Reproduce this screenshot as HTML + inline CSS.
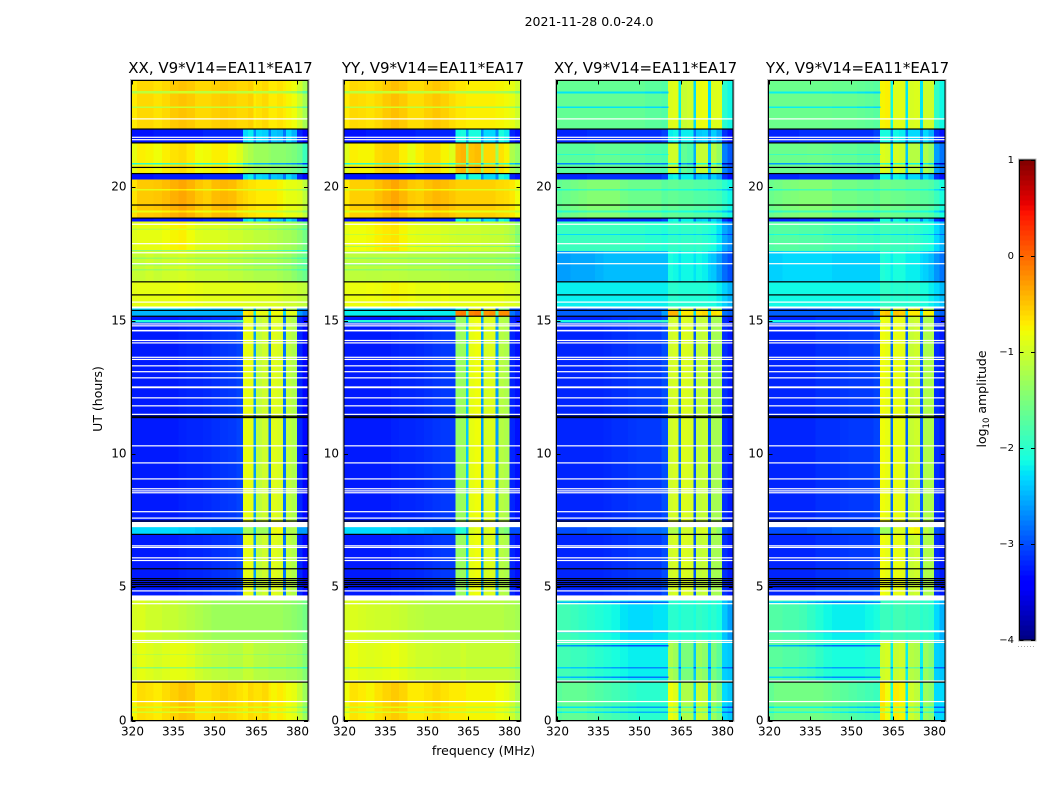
<!DOCTYPE html>
<html lang="en">
<head>
<meta charset="utf-8">
<title>2021-11-28 0.0-24.0</title>
<style>
html,body{margin:0;padding:0;background:#fff;width:1050px;height:800px;overflow:hidden}
svg{display:block}
text{font-family:"DejaVu Sans","Liberation Sans",sans-serif;fill:#000}
</style>
</head>
<body>
<svg id="figure" xmlns="http://www.w3.org/2000/svg" width="1050" height="800" viewBox="0 0 1050 800">
<text x="589" y="26" font-size="12.5" text-anchor="middle">2021-11-28 0.0-24.0</text>
<text transform="translate(102,399) rotate(-90)" font-size="12.5" text-anchor="middle">UT (hours)</text>
<text x="483.5" y="755" font-size="12.5" text-anchor="middle">frequency (MHz)</text>
<text transform="translate(986,399) rotate(-90)" font-size="12.5" text-anchor="middle">log<tspan font-size="8.5" dy="3">10</tspan><tspan dy="-3"> amplitude</tspan></text>
<g id="panels"></g>
<g id="colorbar"></g>
<g fill="#aaa">
<rect x="1018" y="646" width="1" height="1"/><rect x="1021" y="646" width="1" height="1"/><rect x="1024" y="646" width="1" height="1"/><rect x="1027" y="646" width="1" height="1"/><rect x="1030" y="646" width="1" height="1"/><rect x="1033" y="646" width="1" height="1"/>
</g>
</svg>
<script>
// Axis ticks
const freqTicks = [320, 335, 350, 365, 380];
const hourTicks = [0, 5, 10, 15, 20];
const cbarTicks = [-4, -3, -2, -1, 0, 1];
// Frequency bin edges in MHz
const freqEdges = [320,322,325,328,331,334,337,340,343,346,349,352,355,358,360.4,362.3,364.2,365.2,367.4,369.6,370.6,372.8,375,376,378,380,382,384];
// Time bands: from-hour, to-hour, spectrum key
const bands = [
[0,1.44,'warmLow'],[1.44,3.0,'lowYellow'],[3.0,4.5,'green'],[4.69,6.98,'dark'],[6.98,7.25,'cyan'],
[7.44,15.16,'dark'],[15.16,15.38,'hotEdge'],[15.38,15.45,'cyan'],[15.52,16.45,'bright'],[16.45,17.6,'midLow'],
[17.6,18.71,'midHigh'],[18.71,18.86,'darkWin'],[18.86,20.29,'hot'],[20.29,20.51,'darkWin'],[20.51,21.66,'upper'],
[21.66,22.2,'darkWin'],[22.2,24,'warmTop']
];
// Spectra (log10 amplitude per frequency bin)
const xxWarmLow=[-.75,-.62,-.65,-.7,-.62,-.55,-.48,-.52,-.65,-.65,-.6,-.55,-.6,-.65,-.7,-.6,-.65,-.65,-.6,-.7,-.75,-.7,-.75,-.8,-.85,-1.05,-1.3];
const xxLowYellow=[-.95,-.85,-.9,-.95,-.9,-.85,-.85,-.9,-1,-1.05,-1.1,-1.1,-1.15,-1.15,-1.05,-1.05,-1.15,-1.15,-1.15,-1.2,-1.2,-1.2,-1.2,-1.25,-1.25,-1.3,-1.45];
const xxGreen=[-.95,-.92,-1,-1,-1.05,-1.05,-1.1,-1.15,-1.2,-1.25,-1.3,-1.3,-1.3,-1.3,-1.3,-1.3,-1.3,-1.3,-1.3,-1.3,-1.3,-1.3,-1.35,-1.35,-1.4,-1.45,-1.55];
const xxDark=[-3.25,-3.25,-3.25,-3.25,-3.25,-3.25,-3.22,-3.2,-3.2,-3.18,-3.15,-3.12,-3.1,-3.05,-.85,-.85,-2.6,-1.1,-1,-2.8,-.9,-.95,-2.8,-1.1,-1.2,-3.2,-3.35];
const xxCyan=[-2.3,-2.3,-2.3,-2.3,-2.3,-2.3,-2.35,-2.35,-2.4,-2.4,-2.45,-2.5,-2.5,-2.5,-1.25,-1.25,-2.4,-1.3,-1.3,-2.7,-.85,-.8,-2.7,-1.2,-1.2,-2.6,-2.6];
const xxHotEdge=[-2.5,-2.5,-2.5,-2.5,-2.5,-2.5,-2.5,-2.5,-2.5,-2.5,-2.5,-2.5,-2.5,-2.5,-.7,-.65,-2.2,-.85,-.85,-2.3,-.8,-.8,-2.3,-.9,-.9,-2.6,-2.8];
const xxBright=[-.88,-.85,-.85,-.85,-.85,-.82,-.8,-.82,-.85,-.88,-.88,-.88,-.88,-.88,-.9,-.9,-.9,-.92,-.92,-.92,-.92,-.95,-1,-1,-1,-1.05,-1.1];
const xxMidLow=[-1.05,-1.05,-1,-1.05,-1,-.98,-.95,-1,-1.05,-1.05,-1.05,-1.05,-1.1,-1.1,-1.15,-1.15,-1.2,-1.2,-1.2,-1.2,-1.2,-1.25,-1.3,-1.3,-1.4,-1.5,-1.6];
const xxMidHigh=[-.9,-.85,-.85,-.85,-.8,-.75,-.72,-.8,-.9,-.92,-.92,-.95,-1,-1,-1.05,-1.05,-1.1,-1.1,-1.1,-1.15,-1.15,-1.2,-1.25,-1.25,-1.3,-1.4,-1.55];
const xxDarkWin=[-3.3,-3.3,-3.3,-3.25,-3.25,-3.25,-3.25,-3.25,-3.25,-3.2,-3.2,-3.2,-3.2,-3.2,-2.3,-2.2,-2.7,-2.3,-2.35,-2.8,-2.4,-2.45,-2.8,-2.3,-2.5,-3.2,-3.35];
const xxHot=[-.65,-.52,-.52,-.5,-.45,-.38,-.33,-.4,-.5,-.55,-.45,-.42,-.45,-.55,-.6,-.65,-.65,-.7,-.7,-.7,-.7,-.75,-.8,-.85,-.85,-.9,-1.1];
const xxUpper=[-.85,-.72,-.75,-.8,-.72,-.65,-.62,-.7,-.8,-.78,-.72,-.72,-.8,-.9,-1.1,-1.2,-1.3,-1.3,-1.3,-1.35,-1.4,-1.4,-1.4,-1.45,-1.5,-1.6,-1.9];
const xxWarmTop=[-.7,-.6,-.6,-.65,-.6,-.52,-.48,-.52,-.6,-.6,-.55,-.52,-.55,-.6,-.6,-.55,-.7,-.65,-.6,-.7,-.7,-.65,-.7,-.75,-.8,-1,-1.25];

const yyWarmLow=[-.8,-.65,-.7,-.75,-.65,-.58,-.52,-.58,-.7,-.7,-.65,-.6,-.65,-.7,-.7,-.7,-.75,-.75,-.75,-.75,-.75,-.75,-.8,-.8,-.85,-1,-1.2];
const yyLowYellow=[-.9,-.82,-.88,-.9,-.88,-.85,-.82,-.88,-.95,-1,-1,-1.02,-1.05,-1.05,-1.05,-1,-1.05,-1.05,-1.05,-1.05,-1.05,-1.05,-1.05,-1.05,-1.05,-1.1,-1.2];
const yyGreen=[-.95,-.92,-.95,-.98,-1,-1,-1.02,-1.05,-1.1,-1.12,-1.15,-1.15,-1.15,-1.15,-1.15,-1.15,-1.15,-1.15,-1.15,-1.15,-1.15,-1.15,-1.15,-1.15,-1.2,-1.2,-1.25];
const yyDark=[-3.25,-3.25,-3.25,-3.25,-3.25,-3.25,-3.22,-3.2,-3.2,-3.18,-3.15,-3.12,-3.1,-3.1,-1.35,-1.3,-2.4,-.85,-.8,-2.6,-.95,-.9,-2.6,-1.15,-1.2,-3.2,-3.3];
const yyCyan=[-2.3,-2.3,-2.3,-2.3,-2.3,-2.3,-2.35,-2.35,-2.4,-2.4,-2.45,-2.5,-2.5,-2.5,-2.1,-2,-2.5,-.95,-.85,-2.7,-.95,-.85,-2.7,-1.4,-1.5,-3,-3];
const yyHotEdge=[-2.2,-2.2,-2.2,-2.2,-2.2,-2.2,-2.2,-2.2,-2.2,-2.2,-2.2,-2.2,-2.2,-2.2,-.15,-.1,-1.8,-.15,-.1,-1.8,-.25,-.2,-1.8,-.2,-.2,-2.8,-3];
const yyBright=[-.85,-.82,-.82,-.8,-.82,-.78,-.75,-.78,-.8,-.85,-.85,-.85,-.82,-.85,-.85,-.85,-.85,-.85,-.85,-.85,-.85,-.85,-.85,-.85,-.9,-.9,-.95];
const yyMidLow=[-1.1,-1.1,-1.1,-1.12,-1.12,-1.1,-1.1,-1.12,-1.15,-1.15,-1.15,-1.15,-1.18,-1.2,-1.2,-1.2,-1.2,-1.22,-1.22,-1.22,-1.22,-1.22,-1.25,-1.25,-1.25,-1.3,-1.4];
const yyMidHigh=[-.85,-.8,-.8,-.78,-.72,-.68,-.65,-.75,-.85,-.88,-.9,-.9,-.95,-.98,-1,-1,-1,-1,-1,-1.02,-1.02,-1.05,-1.05,-1.05,-1.1,-1.2,-1.4];
const yyDarkWin=[-3.3,-3.3,-3.3,-3.25,-3.25,-3.25,-3.25,-3.25,-3.25,-3.2,-3.2,-3.2,-3.2,-3.2,-2.15,-2.1,-2.6,-2.1,-2.1,-2.7,-2.3,-2.3,-2.7,-2.1,-2.2,-3.2,-3.3];
const yyHot=[-.7,-.55,-.55,-.55,-.47,-.4,-.33,-.42,-.52,-.55,-.47,-.42,-.45,-.5,-.55,-.55,-.55,-.55,-.55,-.55,-.55,-.55,-.6,-.6,-.62,-.68,-.8];
const yyUpper=[-.9,-.72,-.75,-.75,-.62,-.58,-.58,-.72,-.85,-.72,-.62,-.62,-.75,-.9,-.45,-.4,-1.3,-.5,-.45,-1.3,-.6,-.6,-1.3,-.65,-.75,-1.2,-1.35];
const yyWarmTop=[-.7,-.6,-.62,-.65,-.6,-.52,-.46,-.52,-.62,-.62,-.55,-.5,-.55,-.62,-.68,-.68,-.72,-.72,-.72,-.72,-.72,-.72,-.75,-.75,-.78,-.85,-1];

const xyWarmLow=[-1.7,-1.65,-1.65,-1.65,-1.7,-1.75,-1.8,-1.85,-1.9,-1.95,-2,-2,-2,-2,-.8,-.9,-2.2,-1.2,-1.2,-2.3,-1.05,-1.1,-2.3,-1.3,-1.5,-2.3,-2.4];
const xyLowYellow=[-1.85,-1.85,-1.9,-1.9,-1.95,-2,-2.05,-2.1,-2.15,-2.2,-2.2,-2.2,-2.2,-2.2,-1.2,-1.3,-2.4,-1.5,-1.5,-2.4,-1.3,-1.4,-2.4,-1.5,-1.7,-2.35,-2.4];
const xyGreen=[-1.85,-1.85,-1.9,-1.95,-2,-2.05,-2.1,-2.15,-2.25,-2.3,-2.3,-2.3,-2.25,-2.25,-2,-2,-2.1,-2,-2,-2.1,-1.95,-2,-2.1,-2,-2.1,-2.4,-2.6];
const xyDark=[-3.2,-3.2,-3.2,-3.2,-3.2,-3.2,-3.18,-3.15,-3.15,-3.12,-3.1,-3.1,-3.1,-3.0,-1,-.95,-2.8,-.92,-.95,-2.95,-1.1,-1.05,-2.95,-1.25,-1.25,-3.15,-3.25];
const xyCyan=[-3,-3,-3,-3,-2.95,-2.95,-2.95,-2.9,-2.9,-2.9,-2.85,-2.85,-2.85,-2.8,-1.2,-1.2,-2.6,-1,-1,-2.8,-1,-.95,-2.8,-1.2,-1.4,-3,-3.1];
const xyHotEdge=[-2.9,-2.9,-2.9,-2.9,-2.9,-2.9,-2.9,-2.9,-2.9,-2.9,-2.9,-2.9,-2.9,-2.6,-.4,-.4,-2.2,-.7,-.7,-2.3,-.65,-.6,-2.3,-.65,-.7,-2.8,-2.9];
const xyBright=[-2.2,-2.2,-2.2,-2.2,-2.2,-2.2,-2.2,-2.2,-2.2,-2.2,-2.2,-2.2,-2.2,-2.2,-2,-2,-2.05,-2.05,-2.05,-2.05,-2.05,-2.05,-2.1,-2.1,-2.2,-2.35,-2.5];
const xyMidLow=[-2.6,-2.6,-2.55,-2.55,-2.55,-2.5,-2.45,-2.45,-2.45,-2.45,-2.45,-2.45,-2.45,-2.45,-2.1,-2.15,-2.25,-2.15,-2.15,-2.25,-2.15,-2.2,-2.35,-2.4,-2.6,-2.85,-3];
const xyMidHigh=[-1.9,-1.9,-1.9,-1.9,-1.9,-1.9,-1.9,-1.9,-1.95,-1.95,-1.95,-2,-2,-2.05,-1.95,-1.95,-2,-1.95,-1.95,-2,-1.95,-2,-2.05,-2.1,-2.25,-2.55,-2.7];
const xyDarkWin=[-3.2,-3.2,-3.2,-3.2,-3.15,-3.15,-3.15,-3.15,-3.15,-3.15,-3.15,-3.15,-3.15,-3.05,-2.2,-2.15,-2.7,-2.2,-2.2,-2.8,-2.4,-2.35,-2.75,-2.35,-2.55,-3.15,-3.3];
const xyHot=[-1.65,-1.6,-1.55,-1.5,-1.45,-1.45,-1.45,-1.45,-1.55,-1.6,-1.6,-1.6,-1.6,-1.7,-1.65,-1.65,-1.7,-1.7,-1.7,-1.75,-1.75,-1.75,-1.8,-1.8,-1.85,-2,-2.15];
const xyUpper=[-1.7,-1.7,-1.7,-1.7,-1.7,-1.65,-1.65,-1.65,-1.7,-1.7,-1.7,-1.75,-1.75,-1.8,-1,-1,-2.3,-1.65,-1.75,-2.5,-1.05,-1.05,-2.4,-1.15,-1.35,-2.75,-2.95];
const xyWarmTop=[-1.65,-1.65,-1.65,-1.65,-1.65,-1.65,-1.65,-1.65,-1.65,-1.65,-1.65,-1.7,-1.7,-1.75,-.92,-.88,-2.2,-1.05,-1,-2.3,-.85,-.82,-2.3,-.92,-.9,-2,-2.15];

const yxWarmLow=[-1.65,-1.55,-1.55,-1.55,-1.55,-1.55,-1.55,-1.6,-1.65,-1.7,-1.75,-1.8,-1.85,-1.9,-.65,-.8,-2.1,-.7,-.75,-2.2,-1,-1.1,-2.2,-1.3,-1.4,-2.3,-2.3];
const yxLowYellow=[-1.7,-1.7,-1.75,-1.75,-1.8,-1.85,-1.95,-2.05,-2.1,-2.1,-2.1,-2.1,-2.05,-2.05,-1,-.95,-2.2,-1.05,-1,-2.2,-1.15,-1.2,-2.2,-1.3,-1.45,-2.35,-2.4];
const yxGreen=[-1.75,-1.75,-1.8,-1.8,-1.85,-1.95,-2.05,-2.15,-2.2,-2.2,-2.2,-2.2,-2.15,-2.1,-1.9,-1.9,-2,-1.85,-1.85,-1.95,-1.9,-1.9,-2,-1.95,-2,-2.3,-2.5];
const yxDark=[-3.2,-3.2,-3.2,-3.2,-3.2,-3.2,-3.15,-3.15,-3.15,-3.12,-3.1,-3.1,-3.1,-3.05,-.8,-.85,-2.85,-.85,-.85,-2.9,-1.05,-1,-2.9,-1.2,-1.2,-3.15,-3.25];
const yxCyan=[-3,-3,-3,-3,-3,-2.95,-2.95,-2.95,-2.9,-2.9,-2.9,-2.9,-2.9,-2.8,-1.3,-1.3,-2.7,-.95,-.95,-2.8,-.8,-.75,-2.8,-1.1,-1.25,-3,-3.1];
const yxHotEdge=[-2.9,-2.9,-2.9,-2.9,-2.9,-2.9,-2.9,-2.9,-2.9,-2.9,-2.9,-2.9,-2.9,-2.7,-.55,-.5,-2.2,-.5,-.55,-2.3,-.7,-.7,-2.3,-.75,-.75,-2.8,-2.9];
const yxBright=[-2.15,-2.15,-2.15,-2.15,-2.15,-2.15,-2.15,-2.15,-2.15,-2.15,-2.15,-2.15,-2.15,-2.15,-1.95,-1.95,-2.05,-2,-2,-2.05,-2,-2,-2.1,-2.1,-2.2,-2.3,-2.45];
const yxMidLow=[-2.35,-2.35,-2.3,-2.3,-2.3,-2.3,-2.3,-2.3,-2.35,-2.35,-2.35,-2.35,-2.35,-2.35,-2.05,-2.1,-2.2,-2.1,-2.1,-2.2,-2.2,-2.2,-2.3,-2.35,-2.45,-2.65,-2.8];
const yxMidHigh=[-1.75,-1.72,-1.72,-1.72,-1.75,-1.75,-1.75,-1.8,-1.85,-1.85,-1.85,-1.9,-1.9,-1.95,-1.85,-1.85,-1.9,-1.9,-1.9,-1.95,-1.9,-1.95,-2,-2.05,-2.1,-2.3,-2.5];
const yxDarkWin=[-3.2,-3.2,-3.2,-3.2,-3.15,-3.15,-3.15,-3.15,-3.15,-3.15,-3.15,-3.15,-3.15,-3.05,-2.1,-2.1,-2.7,-2.15,-2.2,-2.8,-2.3,-2.3,-2.75,-2.3,-2.5,-3.15,-3.3];
const yxHot=[-1.6,-1.55,-1.5,-1.48,-1.45,-1.45,-1.45,-1.45,-1.55,-1.55,-1.55,-1.6,-1.6,-1.65,-1.55,-1.55,-1.6,-1.6,-1.6,-1.65,-1.65,-1.65,-1.7,-1.7,-1.75,-1.9,-2.1];
const yxUpper=[-1.6,-1.6,-1.6,-1.6,-1.6,-1.58,-1.58,-1.6,-1.65,-1.65,-1.65,-1.7,-1.7,-1.75,-.9,-.95,-2.3,-.95,-1,-2.4,-1.15,-1.15,-2.4,-1.2,-1.35,-2.6,-2.8];
const yxWarmTop=[-1.6,-1.6,-1.6,-1.6,-1.6,-1.6,-1.6,-1.6,-1.62,-1.62,-1.62,-1.65,-1.68,-1.72,-.75,-.72,-2.15,-.9,-.88,-2.25,-.95,-.92,-2.25,-1,-1,-1.95,-2.15];

// Narrow stripes: hour, height in hours, change in log10 amplitude, top frequency affected
const xxStripes=[[.28,.06,-.35,384],[.47,.06,-.35,384],[1.95,.06,-.5,384],[2.45,.05,-.2,384],[17.06,.06,-.3,384],[16.87,.06,-.3,384],[17.3,.06,-.3,384],[18.4,.05,-.25,384],[20.85,.06,-1.2,384],[19.87,.07,-.35,384],[19.05,.07,-.3,384],[22.96,.07,-.5,384],[23.52,.08,-.5,384],[14.92,.1,1.2,360.4],[17.6,.05,-.6,384]];
const yyStripes=[[.28,.06,-.35,384],[.47,.06,-.35,384],[1.95,.06,-.5,384],[16.87,.06,-.3,384],[17.06,.06,-.3,384],[17.3,.06,-.3,384],[17.75,.05,-.4,384],[18.2,.05,-.25,384],[20.85,.06,-1.2,384],[19.87,.07,-.35,384],[19.05,.07,-.3,384],[22.96,.07,-.5,384],[23.52,.08,-.5,384],[14.92,.1,1.2,360.4]];
const xyStripes=[[.28,.06,-.5,384],[.47,.06,-.6,384],[1.95,.05,-.5,384],[1.6,.05,-.6,360.4],[2.78,.05,-.8,360.4],[3.3,.07,-.7,360.4],[4.4,.06,-.6,360.4],[14.92,.1,1.1,360.4],[20.85,.06,-1,384],[19.87,.06,-.4,384],[19.05,.07,-.4,384],[22.96,.07,-.6,360.4],[23.52,.07,-.6,360.4],[18.2,.05,-.4,384],[21.2,.05,-.3,360.4]];
const yxStripes=[[.28,.06,-.5,384],[.47,.06,-.6,384],[1.95,.05,-.5,384],[1.6,.05,-.6,360.4],[2.78,.05,-.8,360.4],[3.3,.07,-.7,360.4],[4.4,.06,-.6,360.4],[14.92,.1,1.1,360.4],[20.85,.06,-1,384],[19.87,.06,-.4,384],[19.05,.07,-.4,384],[22.96,.07,-.6,360.4],[23.52,.07,-.6,360.4],[18.2,.05,-.4,384],[21.2,.05,-.3,360.4]];
// Flagged (blank) times and black-marked times
const blankBands=[[4.5,4.69],[7.25,7.44],[15.45,15.52],[12.46,12.53],[14.59,14.65],[3.31,3.38]];
const blankHours=[.71,1.48,2.93,3,4.38,4.86,6,6.1,6.49,6.55,7.59,7.83,8.54,8.61,8.69,9.06,9.66,10.3,11.48,11.8,12.1,12.85,13.08,13.3,13.54,13.62,14.16,14.25,14.8,14.87,15.69,17.13,17.54,17.88,18.61,21.78,21.87,22.56];
const blackHours=[1.44,5.02,5.1,5.17,5.25,5.32,5.69,6.98,7.48,11.36,11.41,15.16,15.38,15.96,16.45,18.84,19.33,20.51,20.74,21.66,22.18];

const panelDefs=[
{name:'XX',title:'XX, V9*V14=EA11*EA17',left:131.5,stripes:xxStripes,spectra:{warmLow:xxWarmLow,lowYellow:xxLowYellow,green:xxGreen,dark:xxDark,cyan:xxCyan,hotEdge:xxHotEdge,bright:xxBright,midLow:xxMidLow,midHigh:xxMidHigh,darkWin:xxDarkWin,hot:xxHot,upper:xxUpper,warmTop:xxWarmTop}},
{name:'YY',title:'YY, V9*V14=EA11*EA17',left:344,stripes:yyStripes,spectra:{warmLow:yyWarmLow,lowYellow:yyLowYellow,green:yyGreen,dark:yyDark,cyan:yyCyan,hotEdge:yyHotEdge,bright:yyBright,midLow:yyMidLow,midHigh:yyMidHigh,darkWin:yyDarkWin,hot:yyHot,upper:yyUpper,warmTop:yyWarmTop}},
{name:'XY',title:'XY, V9*V14=EA11*EA17',left:556.5,stripes:xyStripes,spectra:{warmLow:xyWarmLow,lowYellow:xyLowYellow,green:xyGreen,dark:xyDark,cyan:xyCyan,hotEdge:xyHotEdge,bright:xyBright,midLow:xyMidLow,midHigh:xyMidHigh,darkWin:xyDarkWin,hot:xyHot,upper:xyUpper,warmTop:xyWarmTop}},
{name:'YX',title:'YX, V9*V14=EA11*EA17',left:768.5,stripes:yxStripes,spectra:{warmLow:yxWarmLow,lowYellow:yxLowYellow,green:yxGreen,dark:yxDark,cyan:yxCyan,hotEdge:yxHotEdge,bright:yxBright,midLow:yxMidLow,midHigh:yxMidHigh,darkWin:yxDarkWin,hot:yxHot,upper:yxUpper,warmTop:yxWarmTop}}
];

const NS='http://www.w3.org/2000/svg';
const plotW=176.5, plotTop=80.5, plotBottom=720.5;
const yHour=h=>plotBottom-(h/24)*(plotBottom-plotTop);
const xFreq=(left,f)=>left+(f-320)/64*plotW;
const cbarTop=160, cbarBottom=640, cbarLeft=1019.5, cbarW=15.5;
const yCbar=v=>cbarBottom-(v+4)/5*(cbarBottom-cbarTop);

function ramp(t,pts){
  for(let i=1;i<pts.length;i++){
    if(t<=pts[i][0]){
      const a=pts[i-1],b=pts[i];
      return a[1]+(b[1]-a[1])*(t-a[0])/(b[0]-a[0]);
    }
  }
  return pts[pts.length-1][1];
}
function jet(v){
  const t=Math.min(1,Math.max(0,(v+4)/5));
  const r=ramp(t,[[0,0],[.35,0],[.66,1],[.89,1],[1,.5]]);
  const g=ramp(t,[[0,0],[.125,0],[.375,1],[.64,1],[.91,0],[1,0]]);
  const b=ramp(t,[[0,.5],[.11,1],[.34,1],[.65,0],[1,0]]);
  return 'rgb('+Math.round(r*255)+','+Math.round(g*255)+','+Math.round(b*255)+')';
}
function make(parent,tag,attrs){
  const el=document.createElementNS(NS,tag);
  for(const k in attrs){el.setAttribute(k,attrs[k]);}
  parent.appendChild(el);
  return el;
}
const panelsG=document.getElementById('panels');
panelDefs.forEach(function(p){
  const g=make(panelsG,'g',{});
  
  
  const cells=make(g,'g',{'shape-rendering':'crispEdges'});
  
  
  function drawRow(from,to,values,delta,maxFreq){
    for(let c=0;c<freqEdges.length-1;c++){
      if(freqEdges[c]>=maxFreq){ continue; }
      const x0=xFreq(p.left,freqEdges[c]), x1=xFreq(p.left,freqEdges[c+1]);
      const y0=yHour(to), y1=yHour(from);
      const cell=make(cells,'rect',{x:x0.toFixed(2),y:y0.toFixed(2),width:(x1-x0+.4).toFixed(2),height:Math.max(1,y1-y0).toFixed(2),fill:jet(values[c]+delta)});
      
      
    }
  }
  function bandAt(h){
    for(const b of bands){ if(h>=b[0]&&h<b[1]) return b[2]; }
    return null;
  }
  bands.forEach(function(b){ drawRow(b[0],b[1],p.spectra[b[2]],0,384); });
  p.stripes.forEach(function(s){
    const key=bandAt(s[0]);
    if(key){ drawRow(s[0],s[0]+s[1],p.spectra[key],s[2],s[3]); }
  });
  blankBands.forEach(function(b){
    const mark=make(g,'rect',{x:p.left,y:yHour(b[1]),width:plotW,height:yHour(b[0])-yHour(b[1]),fill:'#fff'});
    
    
  });
  blankHours.forEach(function(h){
    const mark=make(g,'rect',{x:p.left,y:yHour(h)-.6,width:plotW,height:1.2,fill:'#fff'});
    
    
  });
  blackHours.forEach(function(h){
    const mark=make(g,'rect',{x:p.left,y:yHour(h)-.6,width:plotW,height:1.2,fill:'#000'});
    
    
  });
  const halo=make(g,'rect',{x:p.left-1,y:plotTop-1,width:plotW+2,height:plotBottom-plotTop+2,fill:'none',stroke:'#bbb','stroke-width':1});
  
  
  const frame=make(g,'rect',{x:p.left,y:plotTop,width:plotW,height:plotBottom-plotTop,fill:'none',stroke:'#000','stroke-width':1});
  
  
  freqTicks.forEach(function(f){
    const x=Math.round(xFreq(p.left,f))+.5;
    const t1=make(g,'line',{x1:x,x2:x,y1:plotBottom,y2:plotBottom-4,stroke:'#000'});
    
    
    const t2=make(g,'line',{x1:x,x2:x,y1:plotTop,y2:plotTop+4,stroke:'#000'});
    
    
    const lab=make(g,'text',{x:x,y:735.5,'font-size':12,'text-anchor':'middle'});
    lab.textContent=f;
    
    
  });
  hourTicks.forEach(function(h){
    const y=Math.round(yHour(h))+.5;
    const t1=make(g,'line',{x1:p.left,x2:p.left+4,y1:y,y2:y,stroke:'#000'});
    
    
    const t2=make(g,'line',{x1:p.left+plotW,x2:p.left+plotW-4,y1:y,y2:y,stroke:'#000'});
    
    
    const lab=make(g,'text',{x:p.left-5,y:y+2.8,'font-size':12,'text-anchor':'end'});
    lab.textContent=h;
    
    
  });
  const title=make(g,'text',{x:p.left+89,y:73,'font-size':15,'text-anchor':'middle'});
  title.textContent=p.title;
  
  
});

const cbar=document.getElementById('colorbar');
const cbarLevels=96;
for(let i=0;i<cbarLevels;i++){
  const v0=-4+5*i/cbarLevels, v1=-4+5*(i+1)/cbarLevels;
  const s=make(cbar,'rect',{x:cbarLeft,y:yCbar(v1),width:cbarW,height:yCbar(v0)-yCbar(v1)+.6,fill:jet((v0+v1)/2),'shape-rendering':'crispEdges'});
  
  
}
const cbHalo=make(cbar,'rect',{x:cbarLeft-1,y:cbarTop-1,width:cbarW+2,height:cbarBottom-cbarTop+2,fill:'none',stroke:'#bbb'});


const cbFrame=make(cbar,'rect',{x:cbarLeft,y:cbarTop,width:cbarW,height:cbarBottom-cbarTop,fill:'none',stroke:'#000'});


cbarTicks.forEach(function(v){
  const y=Math.round(yCbar(v))+.5;
  const l=make(cbar,'line',{x1:cbarLeft,x2:cbarLeft+4,y1:y,y2:y,stroke:'#000'});
  
  
  const r=make(cbar,'line',{x1:cbarLeft+cbarW,x2:cbarLeft+cbarW-4,y1:y,y2:y,stroke:'#000'});
  
  
  const lab=make(cbar,'text',{x:1014,y:y+2.5,'font-size':10,'text-anchor':'end'});
  lab.textContent=String(v).replace('-','\u2212');
  
  
});
</script>
</body>
</html>
